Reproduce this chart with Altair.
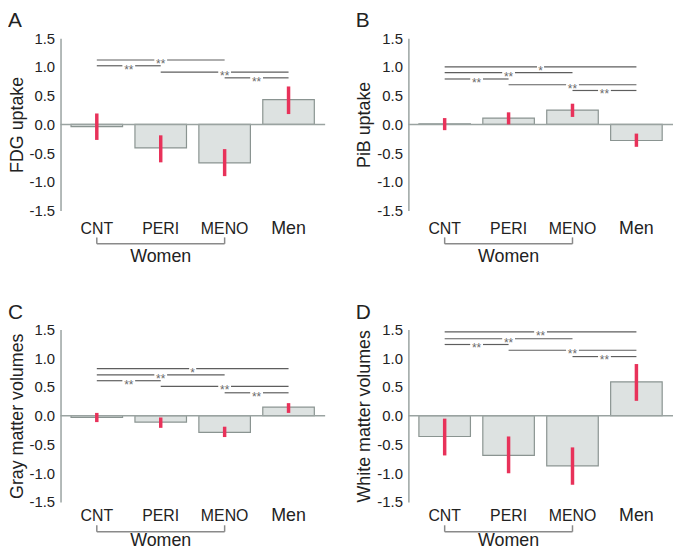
import altair as alt
import pandas as pd

groups = ["CNT", "PERI", "MENO", "Men"]
positions = [0, 1, 2, 3]

# Panel A: FDG uptake
fdg_mean = [-0.04, -0.41, -0.67, 0.43]
fdg_lo = [-0.27, -0.66, -0.90, 0.18]
fdg_hi = [0.19, -0.19, -0.43, 0.66]
fdg_sig_from = [0, 0, 1, 2]
fdg_sig_to = [2, 1, 3, 3]
fdg_sig_y = [1.12, 1.02, 0.91, 0.81]
fdg_sig_label = ["**", "**", "**", "**"]

# Panel B: PiB uptake
pib_mean = [0.01, 0.11, 0.25, -0.28]
pib_lo = [-0.10, 0.00, 0.13, -0.39]
pib_hi = [0.11, 0.21, 0.36, -0.16]
pib_sig_from = [0, 0, 0, 1, 2]
pib_sig_to = [3, 2, 1, 3, 3]
pib_sig_y = [1.00, 0.90, 0.79, 0.69, 0.59]
pib_sig_label = ["*", "**", "**", "**", "**"]

# Panel C: Gray matter volumes
gm_mean = [-0.03, -0.11, -0.29, 0.15]
gm_lo = [-0.11, -0.21, -0.37, 0.05]
gm_hi = [0.05, -0.03, -0.19, 0.22]
gm_sig_from = [0, 0, 0, 1, 2]
gm_sig_to = [3, 2, 1, 3, 3]
gm_sig_y = [0.82, 0.71, 0.61, 0.51, 0.40]
gm_sig_label = ["*", "**", "**", "**", "**"]

# Panel D: White matter volumes
wm_mean = [-0.36, -0.69, -0.87, 0.59]
wm_lo = [-0.69, -1.00, -1.20, 0.26]
wm_hi = [-0.05, -0.36, -0.55, 0.90]
wm_sig_from = [0, 0, 0, 1, 2]
wm_sig_to = [3, 2, 1, 3, 3]
wm_sig_y = [1.46, 1.34, 1.24, 1.14, 1.03]
wm_sig_label = ["**", "**", "**", "**", "**"]

y_ticks = [-1.5, -1.0, -0.5, 0.0, 0.5, 1.0, 1.5]

FONT = "Liberation Sans"
TEXT = "#222222"
AXIS_GRAY = "#9aa3a1"
BAR_FILL = "#dde2e1"
BAR_STROKE = "#8a9491"
ERR_RED = "#e8325a"
SIG_GRAY = "#5e5e5e"
STAR_GRAY = "#6a6a6a"

W = 267
H = 174


def panel(letter, ytitle, mean, lo, hi, sfrom, sto, sy, slab, lab_off, br_off, wom_off):
    xs = alt.Scale(domain=[-0.49, 3.495], nice=False, zero=False)
    ys = alt.Scale(domain=[-1.5, 1.5], nice=False)
    yax = alt.Axis(
        values=y_ticks,
        labelExpr="(datum.value < 0 ? '-' : '') + format(abs(datum.value), '.1f')",
        title=ytitle,
        grid=False,
        ticks=False,
        domainColor=AXIS_GRAY,
        domainWidth=1.5,
        labelFont=FONT,
        labelFontSize=15,
        labelColor=TEXT,
        labelPadding=6,
        titleFont=FONT,
        titleFontSize=18,
        titleFontWeight="normal",
        titleColor=TEXT,
        titlePadding=3,
    )

    df = pd.DataFrame({"pos": positions, "group": groups, "mean": mean, "lo": lo, "hi": hi})

    bars = alt.Chart(df).mark_bar(
        size=52, fill=BAR_FILL, stroke=BAR_STROKE, strokeWidth=1.2
    ).encode(
        x=alt.X("pos:Q", scale=xs, axis=None),
        y=alt.Y("mean:Q", scale=ys, axis=yax),
    )

    zero = alt.Chart(pd.DataFrame({"z": [0.0]})).mark_rule(
        color=AXIS_GRAY, strokeWidth=1.5
    ).encode(
        y=alt.Y("z:Q", scale=ys, axis=yax),
        x=alt.value(0),
        x2=alt.value(W),
    )

    err = alt.Chart(df).mark_rule(color=ERR_RED, strokeWidth=3.5).encode(
        x=alt.X("pos:Q", scale=xs, axis=None),
        y=alt.Y("lo:Q", scale=ys, axis=yax),
        y2="hi:Q",
    )

    # significance lines, split around the star label
    seg_rows = []
    star_rows = []
    for a, b, yv, lab in zip(sfrom, sto, sy, slab):
        mid = (a + b) / 2.0
        g = 0.1 if lab == "**" else 0.055
        seg_rows.append({"x1": a, "x2": mid - g, "y": yv})
        seg_rows.append({"x1": mid + g, "x2": b, "y": yv})
        star_rows.append({"mid": mid, "y": yv, "lab": lab})
    segs = alt.Chart(pd.DataFrame(seg_rows)).mark_rule(
        color=SIG_GRAY, strokeWidth=1.2
    ).encode(
        x=alt.X("x1:Q", scale=xs, axis=None),
        x2="x2:Q",
        y=alt.Y("y:Q", scale=ys, axis=yax),
    )
    stars = alt.Chart(pd.DataFrame(star_rows)).mark_text(
        font=FONT, fontSize=12, color=STAR_GRAY, baseline="alphabetic", dy=8
    ).encode(
        x=alt.X("mid:Q", scale=xs, axis=None),
        y=alt.Y("y:Q", scale=ys, axis=yax),
        text="lab:N",
    )

    cats = alt.Chart(df).mark_text(
        font=FONT, color=TEXT, baseline="middle"
    ).encode(
        x=alt.X("pos:Q", scale=xs, axis=None),
        y=alt.value(H + lab_off),
        text="group:N",
        size=alt.condition("datum.group == 'Men'", alt.value(18), alt.value(16)),
    )

    bracket_h = alt.Chart(pd.DataFrame({"a": [0], "b": [2]})).mark_rule(
        color="#8a8a8a", strokeWidth=1.5
    ).encode(
        x=alt.X("a:Q", scale=xs, axis=None),
        x2="b:Q",
        y=alt.value(H + br_off),
    )
    bracket_v = alt.Chart(pd.DataFrame({"a": [0, 2]})).mark_rule(
        color="#8a8a8a", strokeWidth=1.5
    ).encode(
        x=alt.X("a:Q", scale=xs, axis=None),
        y=alt.value(H + br_off - 6.5),
        y2=alt.value(H + br_off),
    )
    women = alt.Chart(pd.DataFrame({"a": [1], "t": ["Women"]})).mark_text(
        font=FONT, fontSize=18, color=TEXT, baseline="middle"
    ).encode(
        x=alt.X("a:Q", scale=xs, axis=None),
        y=alt.value(H + wom_off),
        text="t:N",
    )

    let = alt.Chart(pd.DataFrame({"t": [letter]})).mark_text(
        font=FONT, fontSize=21, color=TEXT, align="left", baseline="top"
    ).encode(
        x=alt.value(-53),
        y=alt.value(-28),
        text="t:N",
    )

    return alt.layer(
        bars, zero, err, segs, stars, cats, bracket_h, bracket_v, women, let
    ).properties(width=W, height=H)


pA = panel("A", "FDG uptake", fdg_mean, fdg_lo, fdg_hi, fdg_sig_from, fdg_sig_to,
           fdg_sig_y, fdg_sig_label, 19, 33.5, 47)
pB = panel("B", "PiB uptake", pib_mean, pib_lo, pib_hi, pib_sig_from, pib_sig_to,
           pib_sig_y, pib_sig_label, 19, 33.5, 47)
pC = panel("C", "Gray matter volumes", gm_mean, gm_lo, gm_hi, gm_sig_from, gm_sig_to,
           gm_sig_y, gm_sig_label, 14, 30, 39)
pD = panel("D", "White matter volumes", wm_mean, wm_lo, wm_hi, wm_sig_from, wm_sig_to,
           wm_sig_y, wm_sig_label, 14, 30, 39)

row1 = alt.hconcat(pA, pB, spacing=30)
row2 = alt.hconcat(pC, pD, spacing=30)

chart = alt.vconcat(row1, row2, spacing=36).properties(
    padding=0, background="white"
).configure_view(stroke=None)

chart.save("out.html", embed_options={"renderer": "svg", "actions": False})
